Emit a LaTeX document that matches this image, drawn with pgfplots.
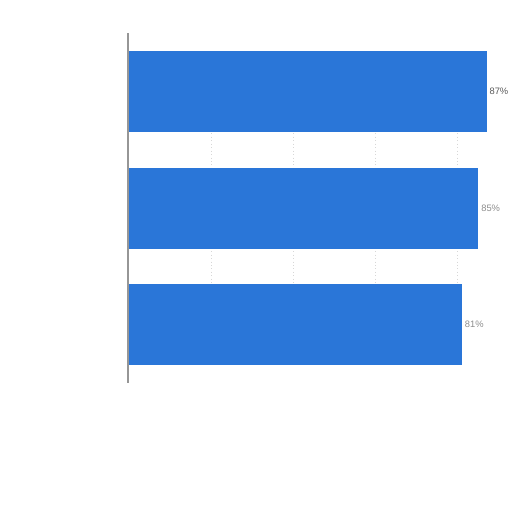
\documentclass[border=0pt]{standalone}
\usepackage{fontspec}
\setmainfont{Liberation Sans}
\usepackage{pgfplots}
\pgfplotsset{compat=1.18}
\definecolor{barblue}{RGB}{42,118,216}
\definecolor{axgray}{RGB}{150,150,150}
\definecolor{gridgray}{RGB}{215,215,215}
\begin{document}
\begin{tikzpicture}
% 1 px of the reference = 0.75pt
\path[use as bounding box] (-96.75pt,-96.75pt) rectangle (287.25pt,287.25pt);
\begin{axis}[
  at={(0,0)}, anchor=south west,
  scale only axis,
  width=277.5pt, height=262.5pt,
  xbar, bar width=60.75pt,
  xmin=0, xmax=90,
  ymin=-0.5, ymax=2.5,
  y dir=reverse,
  hide x axis, hide y axis,
  /pgf/number format/assume math mode=true,
  clip=false,
  nodes near coords={\pgfmathprintnumber{\pgfplotspointmeta}\%},
  nodes near coords align={horizontal},
  every node near coord/.append style={font=\fontsize{7}{8}\selectfont, inner sep=2pt},
]
% faint grid lines, visible in the gaps between the bars
\pgfplotsinvokeforeach{20,40,60,80}{
  \draw[gridgray, dotted, line width=0.6pt] (axis cs:#1,0.3) -- (axis cs:#1,1.7);
}
% left axis line
\draw[axgray, line width=1.6pt] (axis cs:-0.3,-0.5) -- (axis cs:-0.3,2.5);
\addplot[bar shift=0pt, draw=none, fill=barblue,
  every node near coord/.append style={text=black!65}]
  coordinates {(87,0)};
\addplot[bar shift=0pt, draw=none, fill=barblue,
  every node near coord/.append style={text=black!45}]
  coordinates {(85,1)};
\addplot[bar shift=0pt, draw=none, fill=barblue,
  every node near coord/.append style={text=black!45}]
  coordinates {(81,2)};
\end{axis}
\end{tikzpicture}
\end{document}
